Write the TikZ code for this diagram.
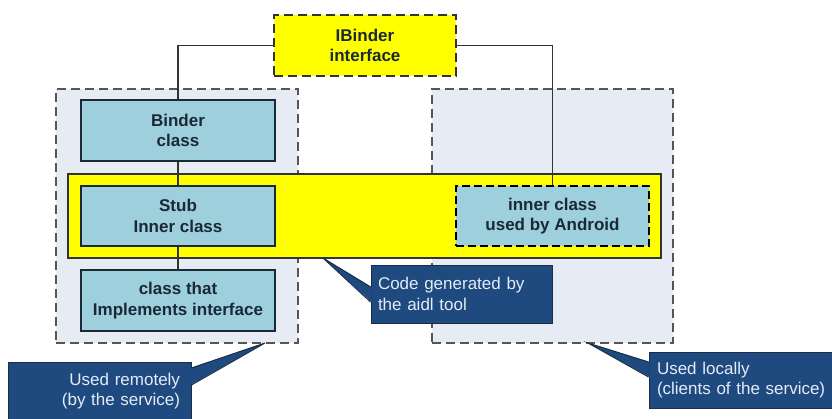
\documentclass[tikz,border=0pt]{standalone}
\usepackage{fontspec}
\setmainfont{Liberation Sans}
\usetikzlibrary{calc}
\definecolor{regfill}{HTML}{E6EBF4}
\definecolor{clsfill}{HTML}{9DCFDC}
\definecolor{genyellow}{HTML}{FFFF00}
\definecolor{notefill}{HTML}{1F4A80}
\definecolor{noteedge}{HTML}{1A2E48}
\definecolor{notetext}{HTML}{E4ECF6}
\definecolor{lnkgray}{HTML}{333333}
\definecolor{dashgray}{HTML}{555555}
\definecolor{txtdark}{HTML}{1B2836}
\tikzset{
  region/.style={fill=regfill, draw=dashgray, line width=1.8pt, dash pattern=on 9pt off 5pt, inner sep=0pt},
  band/.style={fill=genyellow, draw=lnkgray, line width=1.3pt, inner sep=0pt},
  cls/.style={fill=clsfill, draw=txtdark, line width=1.3pt, align=center, text=txtdark,
    font=\fontsize{17}{20.5}\selectfont\bfseries, inner sep=0pt, minimum width=194pt, minimum height=61pt},
  clsdash/.style={cls, draw=black, line width=1.8pt, dash pattern=on 8pt off 4pt},
  iface/.style={cls, fill=genyellow, draw=lnkgray, line width=1.8pt, dash pattern=on 9pt off 5pt, minimum width=182pt},
  note/.style={fill=notefill, draw=noteedge, line width=1pt, text=notetext,
    font=\fontsize{17}{20.5}\selectfont, inner ysep=0pt},
  link/.style={draw=lnkgray, line width=1.3pt},
}

\begin{document}
\begin{tikzpicture}[x=1pt, y=-1pt]
  \useasboundingbox (0,0) rectangle (832,418);
  \clip (0,0) rectangle (832,418);
  % service side and client side
  \node[region, minimum width=242pt, minimum height=254pt] (remote) at (177,216) {};
  \node[region, minimum width=241pt, minimum height=254pt] (local) at (552.5,216) {};
  % generated code band
  \node[band, minimum width=593pt, minimum height=84pt] (gen) at (364.5,216) {};
  % classes
  \node[iface] (ibinder) at (365,45.5) {IBinder\\interface};
  \node[cls] (binder) at (178,130.5) {Binder\\class};
  \node[cls, minimum height=60pt] (stub) at (178,216) {Stub\\Inner class};
  \node[cls] (impl) at (178,300.5) {class that\\Implements interface};
  \node[clsdash, minimum width=193pt, minimum height=60pt] (inner) at (552.5,216) {inner class\\used by Android};
  % links
  \draw[link] (ibinder.west) -| (binder.north);
  \draw[link] (ibinder.east) -| (inner.north);
  \draw[link] (binder.south) -- (stub.north);
  \draw[link] (stub.south) -- (impl.north);
  % notes
  \coordinate (tipgen) at (323,258);
  \coordinate (tipremote) at (265,343);
  \coordinate (tiplocal) at (588,343);
  \node[note, text width=167pt, inner xsep=7pt, minimum height=58pt, align=left] (genote) at (461.5,294)
    {Code generated by\\the aidl tool};
  \node[note, text width=161pt, inner xsep=11pt, minimum height=58pt, align=right] (remnote) at (99.5,391)
    {Used remotely\\(by the service)};
  \node[note, text width=169pt, inner xsep=8pt, minimum height=56pt, align=left] (locnote) at (741.5,380)
    {Used locally\\(clients of the service)};
  % note pointers
  \fill[notefill] ($(genote.west)+(1,-7)$) -- (tipgen) -- ($(genote.west)+(1,8)$) -- cycle;
  \draw[noteedge, line width=1pt] ($(genote.west)+(0,-7)$) -- (tipgen) -- ($(genote.west)+(0,8)$);
  \fill[notefill] ($(remnote.east)+(-1,-23)$) -- (tipremote) -- ($(remnote.east)+(-1,-6)$) -- cycle;
  \draw[noteedge, line width=1pt] ($(remnote.east)+(0,-23)$) -- (tipremote) -- ($(remnote.east)+(0,-6)$);
  \fill[notefill] ($(locnote.west)+(1,-18)$) -- (tiplocal) -- ($(locnote.west)+(1,-3)$) -- cycle;
  \draw[noteedge, line width=1pt] ($(locnote.west)+(0,-18)$) -- (tiplocal) -- ($(locnote.west)+(0,-3)$);
\end{tikzpicture}
\end{document}
